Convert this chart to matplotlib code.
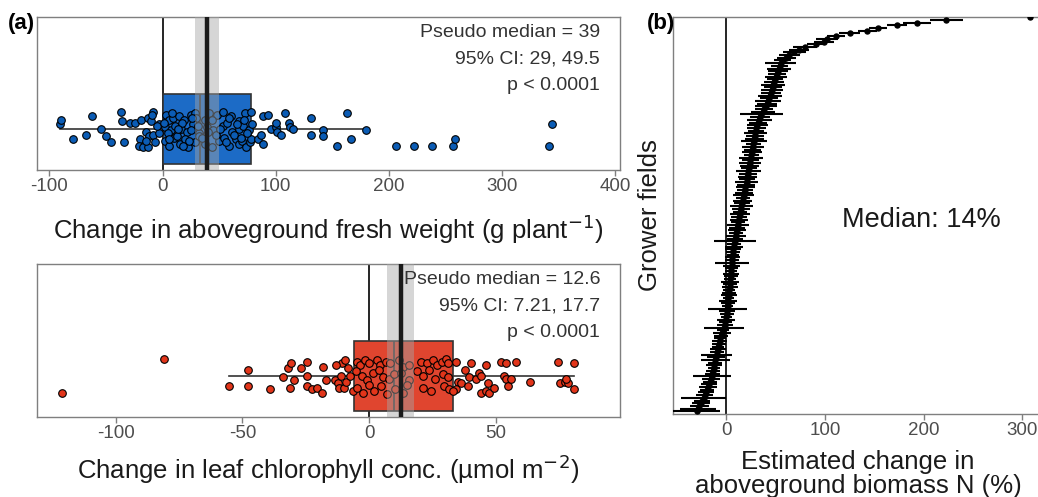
import matplotlib
matplotlib.use("Agg")
import matplotlib.pyplot as plt
import numpy as np

plt.rcParams['font.family'] = ['Liberation Sans', 'DejaVu Sans']

# ---------------- Panel (a) top: fresh weight ----------------
fw_x = [-90.4, -89.5, -79.5, -68, -62.4, -54, -50, -46, -36.8, -36, -34, -28.5, -24, -19, -12.7,
        -8, -10.5, -15, -11.7, -8.8, -19.8, -21, -17.7, -12.7, -6.4, -3.5, -2.8, -9.5, -5, -14.5,
        3.5, 6, 9.6, 14.9, 19.1, 24.8, 28.3, 29.7, 37.9, 41.4, 48.5, 53.1, 60.9, 67.3, 73.3, 78.6,
        2.5, 7.1, 11.3, 16.6, 21.9, 27.1, 32.6, 39.6, 45, 53.8, 57.3, 61.6, 67.3, 71.5, 76.8,
        2.5, 6, 10.3, 15.6, 20.2, 22.7, 28.3, 32.6, 37.9, 43.9, 49.6, 54.6, 59.1, 64.6, 67.3, 70.1, 73.6, 77.2, 78.6,
        1.5, 4.5, 8, 12.5, 17.5, 23.5, 26, 31, 35, 40.5, 44, 47, 51, 56, 58.5, 63, 66, 69, 72, 75, 79.5, 5.5, 13.5, 18.5, 25.5,
        84, 87.4, 88.5, 89, 93, 96, 100, 100.5, 101.6, 105, 108.7, 112, 113, 115.8, 131.7, 131.7, 141.6, 141.6,
        154.7, 163.5, 167, 179.5, 206, 222.7, 237.9, 257, 259, 342, 344]
fw_y = [.30, .33, .20, .23, .35, .27, .22, .18, .38, .32, .18, .31, .31, .33, .34,
        .38, .32, .25, .22, .23, .20, .16, .15, .15, .18, .30, .24, .36, .29, .19,
        .36, .33, .34, .35, .33, .36, .37, .34, .33, .37, .36, .38, .35, .32, .37, .38,
        .28, .26, .29, .27, .25, .30, .24, .28, .26, .29, .31, .25, .27, .29, .26,
        .19, .16, .21, .17, .20, .15, .18, .22, .17, .15, .19, .21, .16, .20, .17, .19, .15, .18, .20,
        .31, .24, .37, .22, .31, .19, .34, .29, .21, .25, .33, .23, .27, .18, .34, .23, .30, .21, .33, .24, .30, .20, .27, .16, .26,
        .20, .23, .17, .35, .36, .27, .28, .31, .25, .23, .37, .31, .28, .27, .34, .23, .26, .22,
        .16, .37, .20, .26, .16, .16, .155, .16, .20, .16, .30]
fw_box = dict(q1=0, med=33, q3=78, whislo=-91, whishi=180)
fw_pm, fw_ci = 39, (29, 49.5)
fw_text = ["Pseudo median = 39", "95% CI: 29, 49.5", "p < 0.0001"]
fw_ticks = [-100, 0, 100, 200, 300, 400]

# ---------------- Panel (a) bottom: chlorophyll ----------------
ch_x = [-121.1, -81, -55.2, -47.6, -47.9, -38.9, -34.1, -32, -30.6, -29.7, -31.3, -27, -24.3, -24.3, -24.6,
        -22.7, -20.6, -18.6, -18.3, -17, -13.5, -12.2, -11.9, -10, -11.1, -10.6, -9.5, -8.4, -9, -13.2, -7.5, -6.3,
        -4.8, -3.5, -1.6, 0, 3.2, 4.3, 6.8, 8.4, 11.9, 13.5, 15.9, 20.6, 23, 25.4, 27, 28.6, 30.2, 31.3,
        -5.1, -2.9, -0.8, 1.6, 4, 5.6, 7.9, 10, 12.7, 15.9, 19, 21.4, 23.8, 26.2, 29, 31,
        -4.8, -2.4, 0, 2.1, 4.8, 7.1, 10.3, 13.5, 15.1, 21.4, 24.6, 29.4, 31.7,
        34.3, 35, 34.3, 33, 36.3, 37.9, 39.2, 39.6, 40.3, 42.2, 43.5, 44.2, 44.2, 46.2, 47.5, 46.9, 49.2, 46.2,
        52.1, 54.1, 53.2, 54.1, 54.8, 56, 58, 63.3, 74.5, 75.5, 77.4, 78.4, 80.7, 80.7, 77.8]
ch_y = [.16, .38, .20, .31, .20, .18, .26, .32, .35, .24, .19, .32, .36, .27, .20,
        .18, .19, .16, .33, .24, .24, .22, .19, .19, .27, .35, .37, .32, .23, .34, .27, .17,
        .36, .34, .37, .35, .37, .34, .36, .35, .37, .33, .34, .36, .35, .37, .34, .36, .38, .35,
        .30, .27, .24, .29, .31, .26, .25, .28, .29, .24, .30, .27, .31, .25, .28, .26,
        .19, .16, .21, .17, .20, .15, .18, .16, .21, .19, .17, .20, .18,
        .36, .23, .18, .17, .22, .31, .20, .26, .35, .25, .29, .27, .16, .17, .16, .22, .19, .34,
        .36, .35, .27, .25, .20, .25, .36, .23, .36, .22, .23, .22, .35, .18, .25]
ch_box = dict(q1=-6, med=10, q3=33, whislo=-55.2, whishi=81)
ch_pm, ch_ci = 12.6, (7.21, 17.7)
ch_text = ["Pseudo median = 12.6", "95% CI: 7.21, 17.7", "p < 0.0001"]
ch_ticks = [-100, -50, 0, 50]

# ---------------- Panel (b): biomass N per field ----------------
bn_est = [-30, -28.6, -27.2, -25.8, -24.4, -23, -22, -20.9, -19.8, -18.7, -17.6, -16.6, -15.6, -14.6,
          -14, -13.4, -12.8, -12.2, -11.6, -11, -10.4, -9.8, -9.2, -8.6, -8, -7.4, -6.8,
          -6, -5.1, -4.2, -3.4, -2.5, -1.6, -0.8, 0,
          0.2, 0.4, 0.7, 1.0, 1.3, 1.6, 1.9, 2.2, 2.5, 2.8, 3.1, 3.4,
          3.6, 3.9, 4.1, 4.4, 4.6, 4.9, 5.2, 5.4, 5.7, 6.0, 6.2, 6.5, 6.8,
          7.2, 7.7, 8.2, 8.7, 9.2, 9.6, 10.1, 10.6, 11.1, 11.6, 12.1, 12.6,
          13.1, 13.6, 14.2, 14.8, 15.4, 16, 16.5, 17, 17.6, 18.2, 18.8, 19.4,
          20, 20.5, 21, 21.5, 22, 22.5, 23, 23.5, 24, 24.5, 25, 25.5, 26,
          26.5, 27, 27.5, 28, 28.5, 29, 29.5, 30, 30.5,
          31.5, 32.5, 33.5, 34.5, 35.5, 37, 38.5, 40, 41, 42, 43, 44, 45, 46, 47, 47.5,
          48.5, 49.5, 50.5, 51.5, 52.5, 53.5, 54, 55,
          57, 61, 64, 69, 74, 80, 91, 99, 102, 111, 125, 143, 154, 173, 193, 223, 308]
bn_err = [24, 18, 10, 9, 8, 23, 9, 8, 7, 9, 8, 7, 9, 19, 8, 7, 6, 8, 7, 15, 9, 16, 7, 8, 6, 7, 8, 6, 7, 9, 6, 20, 8, 7, 9,
          6, 7, 8, 20, 6, 7, 9, 6, 8, 7, 6, 8, 7, 9, 6, 7, 8, 6, 7, 9, 17, 7, 8, 6, 7,
          8, 9, 7, 21, 8, 10, 7, 9, 8, 11, 7, 9,
          8, 10, 7, 9, 12, 8, 10, 7, 11, 9, 8, 10,
          9, 12, 8, 10, 9, 13, 8, 10, 11, 9, 12, 8, 10,
          9, 11, 8, 13, 10, 9, 12, 8, 10,
          11, 9, 13, 10, 22, 12, 9, 11, 10, 13, 9, 12, 10, 11, 9, 12, 10, 8, 11, 9, 10, 12, 9, 16,
          9, 10, 11, 12, 10, 12, 9, 10, 11, 9, 11, 10, 9, 10, 14, 17, 0]
bn_ticks = [0, 100, 200, 300]

W, H = 1038, 497
fig = plt.figure(figsize=(W / 100, H / 100), dpi=100)

spine_c = '#7f7f7f'
tick_c = '#4d4d4d'
title_c = '#1a1a1a'

def style(ax):
    for s in ax.spines.values():
        s.set_color(spine_c)
        s.set_linewidth(1.0)
    ax.tick_params(axis='x', colors=spine_c, labelcolor=tick_c, labelsize=13.5, length=4, width=1, pad=2)
    ax.set_yticks([])

def box_panel(ax, xs, ys, box, pm, ci, texts, ticks, xlim, fill, pfill, xlabel, lpad):
    ax.set_xlim(*xlim)
    ax.set_ylim(0, 1)
    c = 0.27
    ax.axvline(0, color='black', lw=1.2, zorder=1)
    st = dict(box)
    st['fliers'] = []
    kw = dict(positions=[c], widths=0.46, patch_artist=True, showcaps=False, showfliers=False,
              boxprops=dict(facecolor=fill, edgecolor='#333333', linewidth=1.2),
              medianprops=dict(color='#333333', linewidth=1.2),
              whiskerprops=dict(color='#333333', linewidth=1.2), manage_ticks=False)
    try:
        ax.bxp([st], orientation='horizontal', **kw)
    except TypeError:
        ax.bxp([st], vert=False, **kw)
    ax.scatter(xs, ys, s=30, facecolor=pfill, edgecolor='black', linewidth=0.8, zorder=3)
    ax.axvspan(ci[0], ci[1], color='#a6a6a6', alpha=0.45, lw=0, zorder=4)
    ax.axvline(pm, color='#1a1a1a', lw=3.2, zorder=5)
    xr = xlim[1] - 0.034 * (xlim[1] - xlim[0])
    for t, yy in zip(texts, [0.90, 0.725, 0.555]):
        ax.text(xr, yy, t, ha='right', va='center', fontsize=14, color='#333333', zorder=6)
    ax.set_xticks(ticks)
    ax.set_xticklabels([str(t) for t in ticks])
    ax.set_xlabel(xlabel, fontsize=18.5, color=title_c, labelpad=lpad)
    style(ax)

ax1 = fig.add_axes([37 / W, 1 - 170 / H, 583 / W, 153 / H])
box_panel(ax1, fw_x, fw_y, fw_box, fw_pm, fw_ci, fw_text, fw_ticks, (-111, 404.5),
          '#1c6bc6', '#0b5cb5', 'Change in aboveground fresh weight (g plant$^{-1}$)', 12)

ax2 = fig.add_axes([37 / W, 1 - 417 / H, 583 / W, 153 / H])
box_panel(ax2, ch_x, ch_y, ch_box, ch_pm, ch_ci, ch_text, ch_ticks, (-131, 99),
          '#e0452f', '#e2351a', 'Change in leaf chlorophyll conc. (µmol m$^{-2}$)', 7)

ax3 = fig.add_axes([673 / W, 1 - 414 / H, 370 / W, 397 / H])
ranks = np.arange(len(bn_est))
ax3.axvline(0, color='black', lw=1.2, zorder=1)
ax3.errorbar(bn_est, ranks, xerr=bn_err, fmt='o', color='black', ms=3.6, elinewidth=1.5,
             capsize=0, zorder=3)
ax3.set_xlim(-54, 321)
ax3.set_ylim(-1.0, len(bn_est) - 0.9)
ax3.set_xticks(bn_ticks)
ax3.set_xticklabels([str(t) for t in bn_ticks])
style(ax3)
ax3.set_xlabel('Estimated change in\naboveground biomass N (%)', fontsize=18.5, color=title_c,
               labelpad=8, linespacing=1.0)
ax3.set_ylabel('Grower fields', fontsize=18.5, color=title_c, labelpad=8)
ax3.text(198, len(bn_est) * 0.482, 'Median: 14%', fontsize=19.5, color=title_c, ha='center', va='center')

fig.text(8 / W, 1 - 24 / H, '(a)', fontsize=16, fontweight='bold', ha='left', va='center')
fig.text(647 / W, 1 - 24 / H, '(b)', fontsize=16, fontweight='bold', ha='left', va='center')

fig.savefig('out.png', dpi=100)
